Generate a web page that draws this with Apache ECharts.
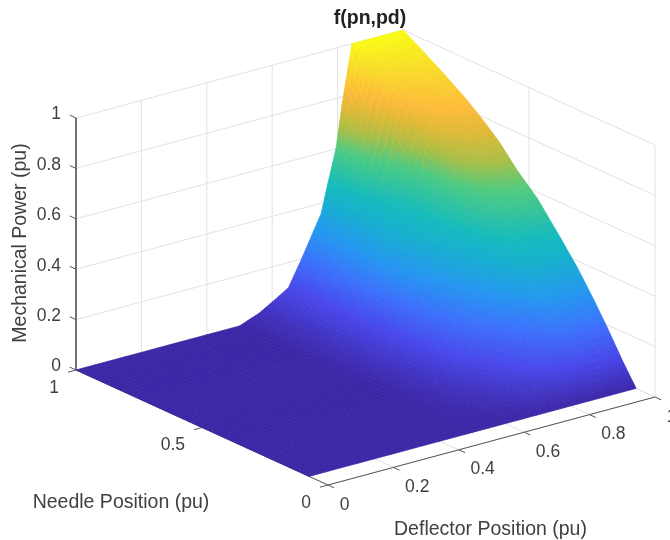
<!DOCTYPE html>
<html><head><meta charset="utf-8">
<style>html,body{margin:0;padding:0;background:#fff}#c{width:670px;height:540px}</style>
<script src="https://cdn.jsdelivr.net/npm/echarts@6/dist/echarts.min.js"></script>
</head><body><div id="c"></div>
<script>
// ---- data ----
const deflector = [0, .25, .5, .56, .6, .65, .69, .72, .75, .77, .795, .815, .844, .87, .9, .95, 1];
const needle = [.075, .127, .19, .246, .31, .377, .468, .548, .615, .683, .746, .841, .933, 1];
const power00 = [0,0,0,0,0,0,0,0,0,0,0,0,0,0,0,0,0];
const power01 = [0,0,0,.003,.007,.014,.022,.028,.036,.044,.052,.06,.068,.075,.079,.082,.082];
const power02 = [0,0,0,.008,.016,.03,.048,.062,.08,.095,.11,.125,.148,.172,.184,.189,.19];
const power03 = [0,0,0,.012,.025,.045,.07,.09,.115,.13,.15,.17,.21,.25,.268,.278,.28];
const power04 = [0,0,0,.018,.035,.06,.09,.11,.14,.165,.19,.22,.31,.35,.365,.373,.375];
const power05 = [0,0,0,.02,.042,.075,.115,.155,.2,.235,.285,.325,.385,.42,.445,.46,.463];
const power06 = [0,0,0,.025,.05,.09,.145,.2,.26,.3,.355,.395,.455,.5,.54,.57,.576];
const power07 = [0,0,0,.028,.055,.1,.165,.23,.3,.345,.4,.44,.49,.54,.6,.64,.651];
const power08 = [0,0,0,.03,.058,.105,.18,.26,.33,.38,.43,.465,.51,.58,.66,.715,.727];
const power09 = [0,0,0,.03,.06,.105,.19,.28,.36,.4,.44,.47,.52,.6,.71,.77,.788];
const power10 = [0,0,0,.03,.06,.105,.2,.3,.38,.41,.45,.48,.53,.62,.79,.825,.838];
const power11 = [0,0,0,.03,.06,.105,.2,.29,.37,.42,.48,.53,.62,.8,.85,.885,.902];
const power12 = [0,0,0,.03,.06,.1,.2,.285,.365,.45,.55,.68,.85,.92,.94,.955,.96];
const power13 = [0,0,0,.03,.06,.1,.2,.28,.36,.47,.6,.78,1,1,1,1,1];
const power = [power00,power01,power02,power03,power04,power05,power06,power07,power08,power09,power10,power11,power12,power13];
const deflectorTicks = [0,0.2,0.4,0.6,0.8,1];
const needleTicks = [0,0.5,1];
const powerTicks = [0,0.2,0.4,0.6,0.8,1];
const tickText = v => String(v);
const titleText = 'f(pn,pd)';
const powerName = 'Mechanical Power (pu)';
const needleName = 'Needle Position (pu)';
const deflectorName = 'Deflector Position (pu)';

// ---- view: orthographic projection of the 3-D box ----
const view = {ox:328, oy:485, dx:327, dy:-88, nx:-252, ny:-115, zy:-252};
const project = (d,n,z) => [view.ox+view.dx*d+view.nx*n, view.oy+view.dy*d+view.ny*n+view.zy*z];
const parulaStops = [[0,60,38,166],[.1,72,70,234],[.2,60,112,252],[.3,36,150,240],[.4,22,174,208],
  [.47,20,186,188],[.6,76,203,130],[.68,170,190,70],[.76,225,185,55],[.82,253,187,58],[.92,248,222,40],[1,249,251,21]];
function parula(t){
  t=Math.max(0,Math.min(1,t));
  for(let i=1;i<parulaStops.length;i++){
    const a=parulaStops[i-1],b=parulaStops[i];
    if(t<=b[0]){const k=(t-a[0])/(b[0]-a[0]);
      return 'rgb('+[1,2,3].map(c=>Math.round(a[c]+(b[c]-a[c])*k)).join(',')+')';}
  }
  return 'rgb(249,251,21)';
}
// ---- line work, defined in data units ----
const gridColor='#e2e2e2', axisColor='#555555', textColor='#404040';
const wallLines=[], frontLines=[];
const T=0.0245;
deflectorTicks.forEach(d=>{
  wallLines.push([d,1,0,d,1,1]);
  wallLines.push([d,0,0,d,1,0]);
});
needleTicks.forEach(n=>{
  wallLines.push([1,n,0,1,n,1]);
  wallLines.push([0,n,0,1,n,0]);
});
powerTicks.forEach(z=>{
  wallLines.push([0,1,z,1,1,z]);
  wallLines.push([1,0,z,1,1,z]);
});
frontLines.push([0,1,0,0,1,1,1.6]);
frontLines.push([0,0,0,1,0,0,1]);
frontLines.push([0,0,0,0,1,0,1]);
powerTicks.forEach(z=>frontLines.push([0,1,z,0,1+T,z,1]));
deflectorTicks.forEach(d=>frontLines.push([d,0,0,d,-T,0,1]));
needleTicks.forEach(n=>frontLines.push([0,n,0,-T,n,0,1]));
const cells=[];
for(let j=needle.length-2;j>=0;j--) for(let i=deflector.length-2;i>=0;i--) cells.push([i,j]);

const SUB=5;
const chart=echarts.init(document.getElementById('c'),null,{renderer:'canvas'});
function lineItem(api,row,color,width){
  const a=api.coord(project(row[0],row[1],row[2])), b=api.coord(project(row[3],row[4],row[5]));
  return {type:'line',shape:{x1:a[0],y1:a[1],x2:b[0],y2:b[1]},style:{stroke:color,lineWidth:width},silent:true};
}
function textOf(pt,text,align,rotate,font){
  return {type:'text',x:pt[0],y:pt[1],rotation:rotate||0,silent:true,
    style:{text:text,fill:textColor,font:font,align:align,verticalAlign:'middle'}};
}
const tickFont='17.5px "Liberation Sans", Arial, sans-serif';
const labelRows=[];
powerTicks.forEach(z=>{labelRows.push(['p',z]);});
needleTicks.forEach(n=>{labelRows.push(['n',n]);});
deflectorTicks.forEach(d=>{labelRows.push(['d',d]);});

chart.setOption({
  animation:false,
  title:{text:titleText,left:365,top:4,textAlign:'center',
    textStyle:{fontFamily:'"Liberation Sans", Arial, sans-serif',fontWeight:'bold',fontSize:19.5,color:'#222222'}},
  grid:{left:0,right:0,top:0,bottom:0},
  xAxis:{type:'value',min:0,max:670,show:false},
  yAxis:{type:'value',min:0,max:540,inverse:true,show:false},
  series:[
    {type:'custom',name:'grid',coordinateSystem:'cartesian2d',clip:false,silent:true,z:1,data:wallLines,
      renderItem:(p,api)=>lineItem(api,wallLines[p.dataIndex],gridColor,1)},
    {type:'custom',name:'axes',coordinateSystem:'cartesian2d',clip:false,silent:true,z:2,data:frontLines,
      renderItem:(p,api)=>{const r=frontLines[p.dataIndex];return lineItem(api,r,axisColor,r[6]);}},
    {type:'custom',name:'f(pn,pd)',coordinateSystem:'cartesian2d',clip:false,silent:true,z:3,data:cells,
      renderItem:(p,api)=>{
        const [i,j]=cells[p.dataIndex], kids=[];
        const d0=deflector[i],d1=deflector[i+1],n0=needle[j],n1=needle[j+1];
        const zz=(u,v)=>(1-u)*(1-v)*power[j][i]+u*(1-v)*power[j][i+1]+(1-u)*v*power[j+1][i]+u*v*power[j+1][i+1];
        const P=(u,v)=>api.coord(project(d0+(d1-d0)*u,n0+(n1-n0)*v,zz(u,v)));
        for(let b=SUB-1;b>=0;b--)for(let a=SUB-1;a>=0;a--){
          const u0=a/SUB,u1=(a+1)/SUB,v0=b/SUB,v1=(b+1)/SUB;
          const col=parula(zz((u0+u1)/2,(v0+v1)/2));
          kids.push({type:'polygon',shape:{points:[P(u0,v0),P(u1,v0),P(u1,v1),P(u0,v1)]},
            style:{fill:col,stroke:col,lineWidth:0.7},silent:true});
        }
        return {type:'group',children:kids};
      }},
    {type:'custom',name:'labels',coordinateSystem:'cartesian2d',clip:false,silent:true,z:4,data:labelRows,
      renderItem:(p,api)=>{
        const [k,v]=labelRows[p.dataIndex];
        if(k==='p'){const q=api.coord(project(0,1,v));return textOf([61,q[1]-3.5],tickText(v),'right',0,tickFont);}
        if(k==='n'){const q=api.coord(project(-T,v,0));return textOf([q[0]-9,q[1]+16],tickText(v),'right',0,tickFont);}
        const q=api.coord(project(v,-T,0));return textOf([q[0]+5.5,q[1]+17],tickText(v),'left',0,tickFont);
      }},
    {type:'custom',name:'names',coordinateSystem:'cartesian2d',clip:false,silent:true,z:4,data:[0,1,2],
      renderItem:(p,api)=>{
        const f='19.5px "Liberation Sans", Arial, sans-serif';
        if(p.dataIndex===0) return textOf(api.coord([21,243]),powerName,'center',Math.PI/2,f);
        if(p.dataIndex===1) return textOf(api.coord([121,502.5]),needleName,'center',0,f);
        return textOf(api.coord([490.5,529.5]),deflectorName,'center',0,f);
      }}
  ]
});
</script></body></html>
